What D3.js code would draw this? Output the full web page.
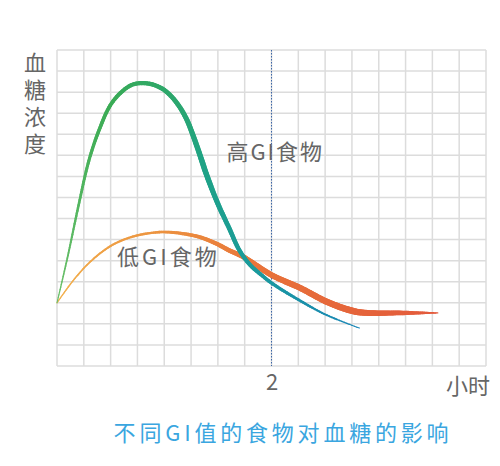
<!DOCTYPE html>
<html>
<head>
<meta charset="utf-8">
<script src="https://cdn.jsdelivr.net/npm/d3@7"></script>
<style>
  body { margin: 0; background: #fff; }
  text { font-family: "Noto Sans CJK SC", "Noto Sans", sans-serif; }
</style>
</head>
<body>
<svg id="chart" width="500" height="466"></svg>
<script>
// high GI food curve (hours, blood sugar in grid rows)
const highHours = [0, 0.1, 0.2, 0.3, 0.4, 0.5, 0.6, 0.7, 0.8, 0.9, 1.0, 1.1, 1.2, 1.3, 1.4, 1.5, 1.6, 1.7, 1.8, 1.9, 2.0, 2.25, 2.5, 2.82];
const highValues = [3, 5.2, 7.6, 9.8, 11.3, 12.4, 13.0, 13.35, 13.43, 13.35, 13.1, 12.6, 11.8, 10.5, 9.0, 7.7, 6.6, 5.5, 4.8, 4.35, 3.94, 3.15, 2.45, 1.8];

// low GI food curve
const lowHours = [0, 0.15, 0.3, 0.47, 0.6, 0.75, 0.9, 1.0, 1.15, 1.33, 1.49, 1.6, 1.73, 2.0, 2.27, 2.52, 2.76, 2.89, 3.2, 3.55];
const lowValues = [3, 4.05, 4.9, 5.6, 5.95, 6.2, 6.33, 6.36, 6.3, 6.12, 5.8, 5.5, 5.2, 4.32, 3.7, 3.04, 2.61, 2.52, 2.52, 2.52];

const xTickValues = [2];
const yLabelChars = ["血", "糖", "浓", "度"];
const seriesLabels = ["高GI食物", "低GI食物"];
const xUnit = "小时";
const title = "不同GI值的食物对血糖的影响";

const svg = d3.select("#chart"),
  margin = { top: 50, right: 14, bottom: 100, left: 57 },
  width = +svg.attr("width") - margin.left - margin.right,
  height = +svg.attr("height") - margin.top - margin.bottom;

const chart = svg.append("g").attr("transform", `translate(${margin.left},${margin.top})`);

const x = d3.scaleLinear().domain([0, 4]).range([0, width]);
const y = d3.scaleLinear().domain([0, 15]).range([height, 0]);

// grid
chart.append("g")
  .selectAll("line")
  .data(d3.range(0, 4.001, 0.25))
  .join("line")
  .attr("x1", (d) => x(d)).attr("x2", (d) => x(d))
  .attr("y1", 0).attr("y2", height)
  .attr("stroke", "#dcdcdc").attr("stroke-width", 1.5);

chart.append("g")
  .selectAll("line")
  .data(d3.range(0, 15.001, 1))
  .join("line")
  .attr("x1", 0).attr("x2", width)
  .attr("y1", (d) => y(d)).attr("y2", (d) => y(d))
  .attr("stroke", "#dcdcdc").attr("stroke-width", 1.5);

// dotted marker at 2 hours
chart.selectAll(".mark")
  .data(xTickValues)
  .join("line")
  .attr("x1", (d) => x(d)).attr("x2", (d) => x(d))
  .attr("y1", 0).attr("y2", height)
  .attr("stroke", "#3b66a8").attr("stroke-width", 1)
  .attr("stroke-dasharray", "1.5,1.5");

// x axis text
const xAxis = chart.append("g")
  .attr("transform", `translate(0,${height})`)
  .call(d3.axisBottom(x).tickValues(xTickValues).tickFormat(d3.format("d")).tickSize(0).tickPadding(8));
xAxis.select(".domain").remove();
xAxis.selectAll("text")
  .attr("font-size", 22).attr("fill", "#666")
  .style("font-family", '"Noto Sans CJK SC", sans-serif');

chart.append("text")
  .attr("x", width + 4).attr("y", height + 28)
  .attr("text-anchor", "end")
  .attr("font-size", 22).attr("fill", "#666")
  .text(xUnit);

// y label, written top to bottom
svg.append("text")
  .attr("x", 35).attr("y", 52)
  .attr("writing-mode", "vertical-rl")
  .style("text-orientation", "upright")
  .attr("font-size", 22).attr("fill", "#666")
  .attr("letter-spacing", 5)
  .text(yLabelChars.join(""));

// tapered curve drawn as short segments along the library path
function drawCurve(hours, values, widthAt, colorAt) {
  const data = hours.map((h, i) => [h, values[i]]);
  const line = d3.line()
    .x((d) => x(d[0]))
    .y((d) => y(d[1]))
    .curve(d3.curveCatmullRom.alpha(0.5));
  const path = chart.append("path")
    .datum(data)
    .attr("d", line)
    .attr("fill", "none")
    .attr("stroke", "none");
  const node = path.node();
  const total = node.getTotalLength();
  const n = 220;
  const pts = d3.range(n + 1).map((i) => node.getPointAtLength((total * i) / n));
  const g = chart.append("g");
  for (let i = 0; i < n; i++) {
    const t = (i + 0.5) / n;
    g.append("line")
      .attr("x1", pts[i].x).attr("y1", pts[i].y)
      .attr("x2", pts[i + 1].x).attr("y2", pts[i + 1].y)
      .attr("stroke", colorAt(t))
      .attr("stroke-width", widthAt(t))
      .attr("stroke-linecap", "round");
  }
}

drawCurve(
  lowHours, lowValues,
  d3.scaleLinear().domain([0, 0.3, 0.55, 0.8, 0.92, 1]).range([1.2, 2.5, 5.5, 6.5, 4.5, 1.2]).clamp(true),
  d3.scaleLinear().domain([0, 0.3, 0.55, 1]).range(["#f2b24e", "#ec9440", "#e8743a", "#e35a3c"]).interpolate(d3.interpolateRgb)
);

drawCurve(
  highHours, highValues,
  d3.scaleLinear().domain([0, 0.2, 0.45, 0.6, 0.8, 1]).range([1.1, 2.8, 4.5, 5.5, 4, 1]).clamp(true),
  d3.scaleLinear().domain([0, 0.35, 0.6, 0.8, 1]).range(["#6cc06a", "#3aab55", "#1fa385", "#1a9a9c", "#1a86b8"]).interpolate(d3.interpolateRgb)
);

// series labels
chart.append("text")
  .attr("x", x(1.58)).attr("y", y(9.8))
  .attr("font-size", 22).attr("fill", "#666")
  .attr("letter-spacing", 2)
  .text(seriesLabels[0]);

chart.append("text")
  .attr("x", x(0.56)).attr("y", y(4.8))
  .attr("font-size", 22).attr("fill", "#666")
  .attr("letter-spacing", 3)
  .text(seriesLabels[1]);

// title
svg.append("text")
  .attr("x", 283).attr("y", 441)
  .attr("text-anchor", "middle")
  .attr("font-size", 22).attr("fill", "#3aa6e0")
  .attr("letter-spacing", 3.8)
  .text(title);
</script>
</body>
</html>
